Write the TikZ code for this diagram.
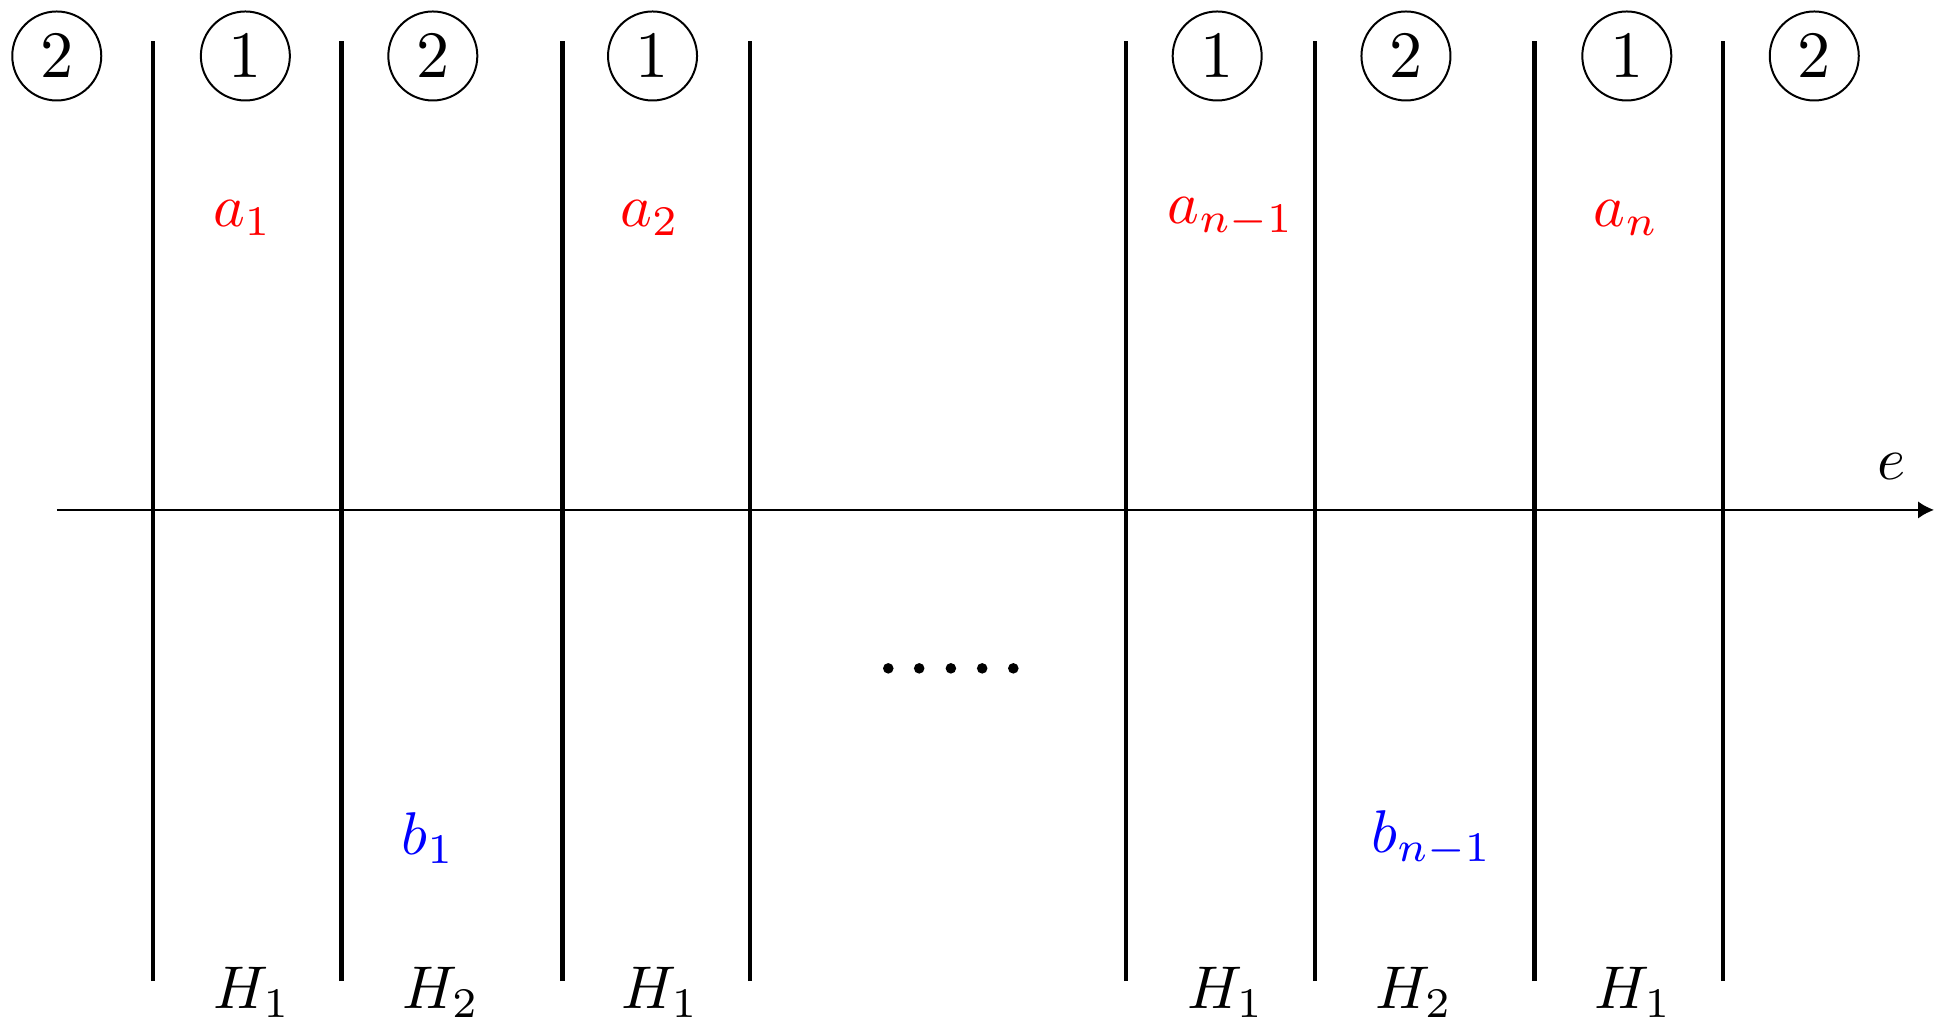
\documentclass[tikz,border=0pt]{standalone}
\usepackage{amsmath,amssymb}
\usepackage{xcolor}
\usepackage{tikz}
\usetikzlibrary{arrows.meta,positioning}

\begin{document}
\begin{tikzpicture}[
    hyper/.style={draw=black, line width=0.65pt},
    axis/.style={-{Latex[length=2.4pt,width=2.6pt]}, line width=0.3pt, draw=black},
    side/.style={draw=black, circle, line width=0.3pt, minimum size=0.472cm, inner sep=0pt},
    alab/.style={text=red, inner sep=0pt, scale=0.91},
    blab/.style={text=blue, inner sep=0pt, scale=0.91},
    hlab/.style={inner sep=0pt, scale=0.91}
]
    \useasboundingbox (0,0) rectangle (10.255,5.435);

    % Hyperplanes
    \foreach \x in {0.811,1.811,2.982,3.977,5.970,6.971,8.136,9.136}
        \draw[hyper] (\x,0.233) -- (\x,5.217);

    % Axis
    \coordinate (estart) at (0.302,2.731);
    \coordinate (eend) at (10.255,2.731);
    \draw[axis] (estart) -- (eend);
    \node[hlab] (elab) at (10.03,2.959) {$e$};

    % Sides
    \node[side] (s1) at (0.301,5.138) {$2$};
    \node[side] (s2) at (1.301,5.138) {$1$};
    \node[side] (s3) at (2.295,5.138) {$2$};
    \node[side] (s4) at (3.460,5.138) {$1$};
    \node[side] (s5) at (6.454,5.138) {$1$};
    \node[side] (s6) at (7.455,5.138) {$2$};
    \node[side] (s7) at (8.626,5.138) {$1$};
    \node[side] (s8) at (9.620,5.138) {$2$};

    % Points a and b
    \node[alab] (a1) at (1.286,4.279) {$a_1$};
    \node[alab] (a2) at (3.446,4.279) {$a_2$};
    \node[alab] (an1) at (6.527,4.279) {$a_{n-1}$};
    \node[alab] (an) at (8.623,4.279) {$a_n$};
    \node[blab] (b1) at (2.271,0.990) {$b_1$};
    \node[blab] (bn1) at (7.591,0.990) {$b_{n-1}$};

    % Dots
    \foreach \x in {4.710,4.874,5.042,5.208,5.373}
        \fill[black] (\x,1.891) circle (0.028);

    % Half-spaces
    \node[hlab] (h1) at (1.337,0.175) {$H_1$};
    \node[hlab] (h2) at (2.337,0.175) {$H_2$};
    \node[hlab] (h3) at (3.501,0.175) {$H_1$};
    \node[hlab] (h4) at (6.499,0.175) {$H_1$};
    \node[hlab] (h5) at (7.497,0.175) {$H_2$};
    \node[hlab] (h6) at (8.660,0.175) {$H_1$};

\end{tikzpicture}
\end{document}
